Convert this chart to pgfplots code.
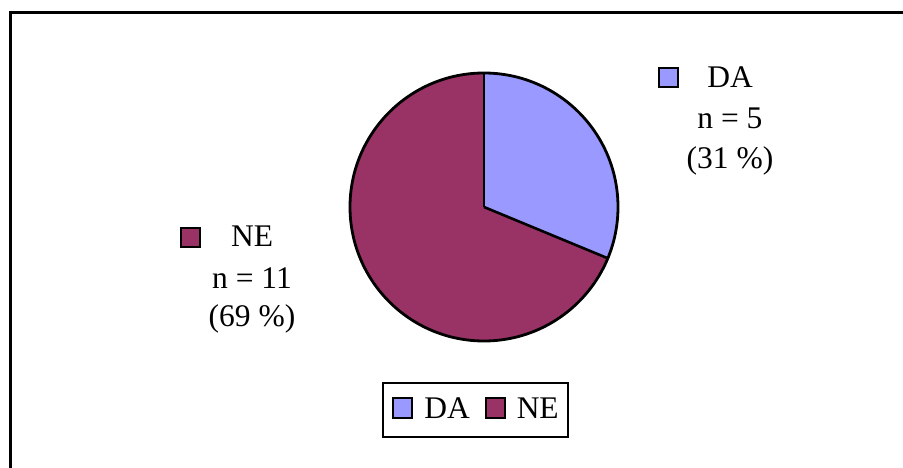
\documentclass[border=0pt]{standalone}
\usepackage{fontspec}
\setmainfont{Liberation Serif}
\usepackage{pgfplots}
\usepackage{pgfplotstable}
\pgfplotsset{compat=1.18}
\definecolor{da}{HTML}{9999FF}
\definecolor{ne}{HTML}{993366}
\pgfplotstableread{
label n
DA 5
NE 11
}\piedata
\pgfplotstablegetelem{0}{n}\of\piedata \let\nDA\pgfplotsretval
\pgfplotstablegetelem{1}{n}\of\piedata \let\nNE\pgfplotsretval
\pgfmathsetmacro{\total}{\nDA+\nNE}
\pgfmathsetmacro{\angDA}{360*\nDA/\total}
\pgfmathsetmacro{\endDA}{90-\angDA}
\newcommand{\keybox}[1]{{\setlength\fboxsep{0pt}\setlength\fboxrule{2pt}\fcolorbox{black}{#1}{\rule{0pt}{17pt}\rule{17pt}{0pt}}}}
\begin{document}
\fontsize{31.5pt}{36pt}\selectfont
\begin{tikzpicture}
\begin{axis}[
  at={(0pt,0pt)}, anchor=south west,
  width=903pt, height=468pt, scale only axis,
  xmin=0, xmax=903, ymin=0, ymax=468, y dir=reverse,
  hide axis, clip=false,
  legend columns=2,
  legend style={at={(axis cs:475.5,410)}, anchor=center, draw=black, line width=2.2pt,
    font=\fontsize{31.5pt}{36pt}\selectfont, inner xsep=9pt, inner ysep=14pt,
    nodes={inner sep=0pt},
    /tikz/every odd column/.append style={column sep=11pt},
    /tikz/every even column/.append style={column sep=15pt}},
  legend cell align=left,
]
% outer frame
\draw[line width=3pt] (axis cs:10.5,12.5) rectangle (axis cs:910,476);
% slices
\fill[da] (axis cs:484,207) -- ++(90:134pt) arc[start angle=90, end angle=\endDA, radius=134pt] -- cycle;
\fill[ne] (axis cs:484,207) -- ++(\endDA:134pt) arc[start angle=\endDA, end angle=-270, radius=134pt] -- cycle;
\draw[line width=2.6pt] (axis cs:484,207) -- ++(90:134pt);
\draw[line width=2.6pt] (axis cs:484,207) -- ++(\endDA:134pt);
\draw[line width=2.8pt] (axis cs:484,207) circle[radius=134pt];
% legend
\addlegendimage{legend image code/.code={\draw[fill=da, draw=black, line width=2pt] (0pt,-7.5pt) rectangle (19pt,12.5pt);}}
\addlegendentry{DA}
\addlegendimage{legend image code/.code={\draw[fill=ne, draw=black, line width=2pt] (0pt,-7.5pt) rectangle (19pt,12.5pt);}}
\addlegendentry{NE}
% data labels
\node at (axis cs:668.5,77.5) {\keybox{da}};
\node[anchor=base] at (axis cs:730,88) {DA};
\node[anchor=base] at (axis cs:730,129) {n = 5};
\node[anchor=base] at (axis cs:730,169) {(31 \%)};
\node at (axis cs:190.5,237) {\keybox{ne}};
\node[anchor=base] at (axis cs:252,247) {NE};
\node[anchor=base] at (axis cs:252,288) {n = 11};
\node[anchor=base] at (axis cs:252,326) {(69 \%)};
\end{axis}
\pgfresetboundingbox
\useasboundingbox (0pt,0pt) rectangle (903pt,468pt);
\end{tikzpicture}
\end{document}
